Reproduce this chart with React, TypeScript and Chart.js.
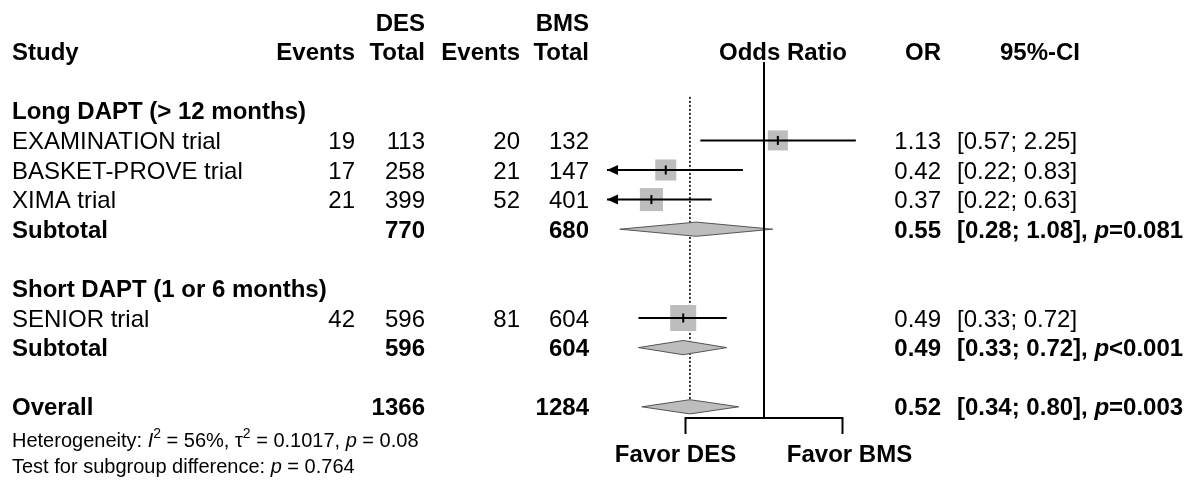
import React, { useEffect, useRef } from "react";
import { Chart, registerables } from "chart.js";

Chart.register(...registerables);

// ---------------- data ----------------
const studies = ["EXAMINATION trial", "BASKET-PROVE trial", "XIMA trial", "SENIOR trial"];
const studyGroup = [0, 0, 0, 1];
const eventsDES = [19, 17, 21, 42];
const totalDES = [113, 258, 399, 596];
const eventsBMS = [20, 21, 52, 81];
const totalBMS = [132, 147, 401, 604];
const studyOR = [1.13, 0.42, 0.37, 0.49];
const studyLower = [0.57, 0.22, 0.22, 0.33];
const studyUpper = [2.25, 0.83, 0.63, 0.72];
const studyWeight = [19.6, 21.6, 25.9, 33.0];

const groups = ["Long DAPT (> 12 months)", "Short DAPT (1 or 6 months)"];
const groupTotalDES = [770, 596];
const groupTotalBMS = [680, 604];
const groupOR = [0.55, 0.49];
const groupLower = [0.28, 0.33];
const groupUpper = [1.08, 0.72];
const groupP = ["=0.081", "<0.001"];

const overallLabel = "Overall";
const overallTotalDES = [1366];
const overallTotalBMS = [1284];
const overallOR = [0.52];
const overallLower = [0.34];
const overallUpper = [0.8];
const overallP = ["=0.003"];

const hetI2 = "56%";
const hetTau2 = "0.1017";
const hetP = "0.08";
const subgroupDiffP = "0.764";

const axisMin = 0.25;
const axisMax = 4;
const axisTicks = [0.5, 2];
const favorLabels = ["Favor DES", "Favor BMS"];
const armLabels = ["DES", "BMS"];

// ---------------- layout ----------------
const W = 1193;
const H = 481;
const ROW_H = 29.6;
const TOP = 22;
const Y_MIN = -TOP / ROW_H;
const Y_MAX = Y_MIN + H / ROW_H;
const DIAMOND_HALF = 0.24;
const FONT = "'Liberation Sans', Arial, Helvetica, sans-serif";

// build rows
type RowInfo = { kind: string; idx: number; row: number };
const rows: RowInfo[] = [];
let r = 3;
groups.forEach((g, gi) => {
  rows.push({ kind: "group", idx: gi, row: r++ });
  studies.forEach((s, si) => {
    if (studyGroup[si] === gi) rows.push({ kind: "study", idx: si, row: r++ });
  });
  rows.push({ kind: "subtotal", idx: gi, row: r++ });
  r++;
});
const overallRow = r;
rows.push({ kind: "overall", idx: 0, row: overallRow });
const studyRow = (i: number) => rows.find((x) => x.kind === "study" && x.idx === i)!.row;
const subRow = (i: number) => rows.find((x) => x.kind === "subtotal" && x.idx === i)!.row;

const axisRow = overallRow + 0.378;
const tickRow = overallRow + 0.919;
const refTopRow = 1.35;
const dottedTopRow = 2.53;

type Seg = { t: string; italic?: boolean; bold?: boolean; size?: number; dy?: number };

export default function App() {
  const canvasRef = useRef<HTMLCanvasElement | null>(null);

  useEffect(() => {
    const canvas = canvasRef.current;
    if (!canvas) return;

    const diamond = (est: number, lo: number, hi: number, row: number) => [
      { x: lo, y: row },
      { x: est, y: row - DIAMOND_HALF },
      { x: hi, y: row },
      { x: est, y: row + DIAMOND_HALF },
      { x: lo, y: row },
    ];

    const datasets: any[] = [];
    const lineBase = {
      type: "line",
      pointRadius: 0,
      pointHoverRadius: 0,
      tension: 0,
      fill: false,
      clip: false,
    };

    // dotted overall-effect line
    datasets.push({
      ...lineBase,
      data: [
        { x: overallOR[0], y: dottedTopRow },
        { x: overallOR[0], y: overallRow - DIAMOND_HALF },
      ],
      borderColor: "#000",
      borderWidth: 1.6,
      borderDash: [2, 2],
      order: 30,
    });

    // squares
    datasets.push({
      type: "line",
      showLine: false,
      clip: false,
      data: studies.map((_, i) => ({ x: studyOR[i], y: studyRow(i) })),
      pointStyle: "rect",
      pointRadius: studyWeight.map((w) => (4.53 * Math.sqrt(w)) / Math.SQRT2),
      pointHoverRadius: studyWeight.map((w) => (4.53 * Math.sqrt(w)) / Math.SQRT2),
      pointBackgroundColor: "#bdbdbd",
      pointBorderWidth: 0,
      pointBorderColor: "rgba(0,0,0,0)",
      order: 20,
    });

    // diamonds
    groups.forEach((_, gi) => {
      datasets.push({
        ...lineBase,
        data: diamond(groupOR[gi], groupLower[gi], groupUpper[gi], subRow(gi)),
        borderColor: "#555",
        borderWidth: 1,
        backgroundColor: "#bdbdbd",
        fill: "shape",
        order: 15,
      });
    });
    datasets.push({
      ...lineBase,
      data: diamond(overallOR[0], overallLower[0], overallUpper[0], overallRow),
      borderColor: "#555",
      borderWidth: 1,
      backgroundColor: "#bdbdbd",
      fill: "shape",
      order: 15,
    });

    // CI lines
    studies.forEach((_, i) => {
      datasets.push({
        ...lineBase,
        data: [
          { x: Math.max(studyLower[i], axisMin), y: studyRow(i) },
          { x: Math.min(studyUpper[i], axisMax), y: studyRow(i) },
        ],
        borderColor: "#000",
        borderWidth: 2,
        order: 8,
      });
    });

    // estimate ticks inside squares
    datasets.push({
      type: "line",
      showLine: false,
      clip: false,
      data: studies.map((_, i) => ({ x: studyOR[i], y: studyRow(i) })),
      pointStyle: "line",
      rotation: 90,
      pointRadius: 4.5,
      pointHoverRadius: 4.5,
      pointBorderColor: "#000",
      pointBorderWidth: 2,
      order: 6,
    });

    // reference line at OR = 1
    datasets.push({
      ...lineBase,
      data: [
        { x: 1, y: refTopRow },
        { x: 1, y: axisRow },
      ],
      borderColor: "#000",
      borderWidth: 2,
      order: 4,
    });

    // bottom axis with ticks
    datasets.push({
      ...lineBase,
      data: [
        { x: axisTicks[0], y: tickRow },
        { x: axisTicks[0], y: axisRow },
        { x: axisTicks[1], y: axisRow },
        { x: axisTicks[1], y: tickRow },
      ],
      borderColor: "#000",
      borderWidth: 2,
      borderJoinStyle: "miter",
      order: 4,
    });

    const drawSegs = (
      ctx: CanvasRenderingContext2D,
      segs: Seg[],
      x: number,
      baseline: number,
      align: "left" | "right" | "center",
      defBold: boolean,
      defSize: number
    ) => {
      const fontFor = (s: Seg) =>
        `${s.italic ? "italic " : ""}${(s.bold ?? defBold) ? "bold " : ""}${s.size ?? defSize}px ${FONT}`;
      let total = 0;
      segs.forEach((s) => {
        ctx.font = fontFor(s);
        total += ctx.measureText(s.t).width;
      });
      let cx = align === "left" ? x : align === "right" ? x - total : x - total / 2;
      ctx.textAlign = "left";
      ctx.textBaseline = "alphabetic";
      segs.forEach((s) => {
        ctx.font = fontFor(s);
        ctx.fillText(s.t, cx, baseline + (s.dy ?? 0));
        cx += ctx.measureText(s.t).width;
      });
    };

    const textPlugin = {
      id: "forestText",
      beforeDraw(chart: any) {
        const c = chart.ctx;
        c.save();
        c.fillStyle = "#fff";
        c.fillRect(0, 0, chart.width, chart.height);
        c.restore();
      },
      afterDatasetsDraw(chart: any) {
        const ctx: CanvasRenderingContext2D = chart.ctx;
        const xs = chart.scales.x;
        const ys = chart.scales.y;
        ctx.save();
        ctx.fillStyle = "#000";
        // arrows for truncated CIs
        studies.forEach((_, i) => {
          if (studyLower[i] < axisMin) {
            const px = xs.getPixelForValue(axisMin);
            const py = ys.getPixelForValue(studyRow(i));
            ctx.beginPath();
            ctx.moveTo(px, py);
            ctx.lineTo(px + 11, py - 5);
            ctx.lineTo(px + 11, py + 5);
            ctx.closePath();
            ctx.fill();
          }
        });

        const base = (row: number) => ys.getPixelForValue(row) + 8.5;
        const T = (
          t: string | number,
          x: number,
          row: number,
          align: "left" | "right" | "center",
          bold = false
        ) => drawSegs(ctx, [{ t: String(t) }], x, base(row), align, bold, 24);

        const cEv1 = 355, cTot1 = 425, cEv2 = 520, cTot2 = 589, cOR = 941, cCI = 957;

        // headers
        T(armLabels[0], cTot1, 0, "right", true);
        T(armLabels[1], cTot2, 0, "right", true);
        T("Study", 12, 1, "left", true);
        T("Events", cEv1, 1, "right", true);
        T("Total", cTot1, 1, "right", true);
        T("Events", cEv2, 1, "right", true);
        T("Total", cTot2, 1, "right", true);
        T("Odds Ratio", 783, 1, "center", true);
        T("OR", cOR, 1, "right", true);
        T("95%-CI", 1080, 1, "right", true);

        const fmt = (v: number) => v.toFixed(2);
        rows.forEach((ri) => {
          if (ri.kind === "group") {
            T(groups[ri.idx], 12, ri.row, "left", true);
          } else if (ri.kind === "study") {
            const i = ri.idx;
            T(studies[i], 12, ri.row, "left");
            T(eventsDES[i], cEv1, ri.row, "right");
            T(totalDES[i], cTot1, ri.row, "right");
            T(eventsBMS[i], cEv2, ri.row, "right");
            T(totalBMS[i], cTot2, ri.row, "right");
            T(fmt(studyOR[i]), cOR, ri.row, "right");
            T(`[${fmt(studyLower[i])}; ${fmt(studyUpper[i])}]`, cCI, ri.row, "left");
          } else {
            const g = ri.idx;
            const isO = ri.kind === "overall";
            const tD = isO ? overallTotalDES[0] : groupTotalDES[g];
            const tB = isO ? overallTotalBMS[0] : groupTotalBMS[g];
            const o = isO ? overallOR[0] : groupOR[g];
            const lo = isO ? overallLower[0] : groupLower[g];
            const hi = isO ? overallUpper[0] : groupUpper[g];
            const p = isO ? overallP[0] : groupP[g];
            T(isO ? overallLabel : "Subtotal", 12, ri.row, "left", true);
            T(tD, cTot1, ri.row, "right", true);
            T(tB, cTot2, ri.row, "right", true);
            T(fmt(o), cOR, ri.row, "right", true);
            drawSegs(
              ctx,
              [{ t: `[${fmt(lo)}; ${fmt(hi)}], ` }, { t: "p", italic: true }, { t: p }],
              cCI,
              base(ri.row),
              "left",
              true,
              24
            );
          }
        });

        // footer
        const fs = 20;
        drawSegs(
          ctx,
          [
            { t: "Heterogeneity: " },
            { t: "I", italic: true },
            { t: "2", size: 14, dy: -9 },
            { t: ` = ${hetI2}, ` },
            { t: "\u03C4" },
            { t: "2", size: 14, dy: -9 },
            { t: ` = ${hetTau2}, ` },
            { t: "p", italic: true },
            { t: ` = ${hetP}` },
          ],
          12,
          447,
          "left",
          false,
          fs
        );
        drawSegs(
          ctx,
          [{ t: "Test for subgroup difference: " }, { t: "p", italic: true }, { t: ` = ${subgroupDiffP}` }],
          12,
          473,
          "left",
          false,
          fs
        );

        // favour labels
        const lx = xs.getPixelForValue(axisTicks[0]);
        const rx = xs.getPixelForValue(axisTicks[1]);
        drawSegs(ctx, [{ t: favorLabels[0] }], lx - 10, ys.getPixelForValue(tickRow) + 28, "center", true, 24);
        drawSegs(ctx, [{ t: favorLabels[1] }], rx + 7, ys.getPixelForValue(tickRow) + 28, "center", true, 24);
        ctx.restore();
      },
    };

    const chart = new Chart(canvas, {
      type: "line",
      data: { datasets },
      options: {
        animation: false,
        responsive: false,
        maintainAspectRatio: false,
        events: [],
        layout: { autoPadding: false, padding: { left: 607, right: W - 921, top: 0, bottom: 0 } },
        plugins: { legend: { display: false }, tooltip: { enabled: false } },
        scales: {
          x: { type: "logarithmic", min: axisMin, max: axisMax, display: false },
          y: { type: "linear", min: Y_MIN, max: Y_MAX, reverse: true, display: false },
        },
      },
      plugins: [textPlugin],
    } as any);

    return () => chart.destroy();
  }, []);

  return (
    <div style={{ position: "absolute", left: 0, top: 0, width: W, height: H, background: "#fff" }}>
      <canvas ref={canvasRef} width={W} height={H} style={{ display: "block", width: W, height: H }} />
    </div>
  );
}
